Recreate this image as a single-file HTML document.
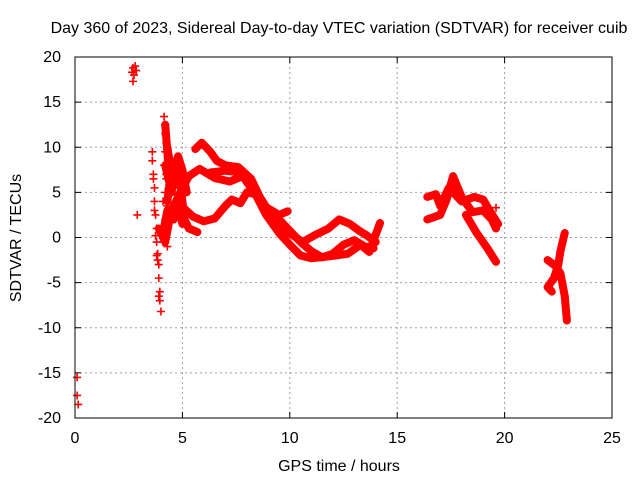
<!DOCTYPE html>
<html><head><meta charset="utf-8"><style>
body{margin:0;background:#fff}
svg{display:block;font-family:"Liberation Sans",sans-serif}
</style></head><body>
<svg id="chart" width="640" height="480" viewBox="0 0 640 480" xmlns="http://www.w3.org/2000/svg">
<rect width="640" height="480" fill="#fff"/>
<text x="339" y="33" font-size="16" text-anchor="middle">Day 360 of 2023, Sidereal Day-to-day VTEC variation (SDTVAR) for receiver cuib</text>
<text x="339" y="471" font-size="16" text-anchor="middle">GPS time / hours</text>
<text transform="translate(21,238) rotate(-90)" font-size="16" text-anchor="middle">SDTVAR / TECUs</text>
<g id="grid"></g><g id="ticks"></g><g id="marks"></g>
<rect x="75" y="57" width="537" height="361" fill="none" stroke="#000" stroke-width="1"/>
</svg>
<script>
const xTicks=[0,5,10,15,20,25];
const yTicks=[20,15,10,5,0,-5,-10,-15,-20];
const track1=[[5.6,9.8],[5.9,10.5],[6.3,9.5],[6.6,8.5],[7.0,8.0],[7.6,7.8],[8.2,6.5],[8.6,4.5],[9.0,3.0],[9.5,2.0],[9.9,1.0],[10.5,-0.5],[11.0,-1.5],[11.5,-2.2],[12.0,-1.8],[12.5,-0.8],[13.0,-0.3],[13.5,-1.0],[13.9,-1.2]];
const track2=[[4.5,3.0],[4.9,5.0],[5.3,6.8],[5.8,7.6],[6.5,6.6],[7.2,6.2],[7.8,6.8],[8.2,5.5],[8.8,3.5],[9.5,2.5],[9.9,2.9]];
const track3=[[4.9,3.6],[5.5,2.3],[6.0,1.8],[6.5,2.1],[7.0,3.5],[7.3,4.2],[7.7,3.8],[8.0,5.0],[8.4,4.8],[8.9,2.5],[9.5,0.5],[10.0,-0.8],[10.5,-2.0],[11.0,-2.3],[11.8,-2.1],[12.7,-1.8],[13.3,-0.8],[13.7,-1.6],[14.2,1.6]];
const track4=[[9.1,2.7],[9.8,0.8],[10.6,-0.5],[11.2,0.3],[11.8,1.0],[12.3,2.0],[12.8,1.5],[13.2,0.8],[13.6,0.2],[14.0,-0.5]];
const track5=[[16.4,2.0],[17.0,2.5],[17.3,4.2],[17.6,6.8],[18.0,4.5],[18.5,2.8],[19.0,3.0],[19.4,2.0],[19.6,1.0]];
const track6=[[16.4,4.5],[16.8,4.8],[17.0,3.5],[17.4,5.5],[18.0,4.0],[18.6,4.5],[19.0,4.2],[19.3,3.0],[19.7,1.5]];
const track7=[[18.2,2.5],[18.7,0.5],[19.2,-1.2],[19.6,-2.7]];
const track8=[[22.8,0.5],[22.6,-1.5],[22.5,-3.0],[22.3,-4.5],[22.0,-5.5],[22.2,-6.0]];
const track9=[[22.0,-2.5],[22.4,-3.2],[22.6,-4.0],[22.8,-6.5],[22.9,-9.2]];
const track10=[[4.2,8.0],[4.5,5.0],[4.7,8.5],[4.9,6.0],[5.1,2.0],[5.3,1.0],[5.7,0.6]];
const track11=[[4.1,0.5],[4.3,3.0],[4.6,2.0],[4.8,4.0],[5.0,1.5]];
const track12=[[6.3,7.2],[7.0,7.4],[7.8,7.2],[8.2,6.0]];
const track13=[[4.3,10.0],[4.5,7.0],[4.8,9.0],[5.0,7.5],[5.2,5.0]];
const track14=[[3.9,1.0],[4.2,-0.5],[4.4,2.0],[4.7,3.5]];
const track15=[[4.2,12.5],[4.3,9.5],[4.4,6.0],[4.3,4.0]];
const scatterX=[0.1,0.1,0.15,2.7,2.75,2.7,2.8,2.85,2.65,2.9,3.6,3.65,3.7,3.7,3.75,3.8,3.8,3.85,3.9,3.9,3.95,3.95,4.0,3.6,3.65,3.7,3.75,3.8,4.15,4.2,4.2,4.25,4.2,4.15,4.25,4.2,4.3,4.2,4.15,4.1,4.3,4.2,4.25,4.1,4.35,4.4,4.5,4.6,3.85,3.9,19.6];
const scatterY=[-15.5,-17.5,-18.5,18.8,18.0,17.3,19.0,18.5,18.3,2.5,8.5,7.0,5.5,4.0,2.5,1.0,-0.5,-1.8,-3.0,-4.5,-6.0,-7.0,-8.2,9.5,6.5,3.0,0.2,-2.0,13.4,12.5,11.5,10.5,9.5,8.0,6.5,5.0,3.5,2.0,0.5,-0.5,-1.0,1.5,7.0,4.0,9.0,8.0,2.0,5.5,-2.5,-6.5,3.3];
const xS=v=>75+v*537/25, yS=v=>237.5-v*361/40;
const NS='http://www.w3.org/2000/svg';
function mk(t,a,p){const e=document.createElementNS(NS,t);for(const k in a)e.setAttribute(k,a[k]);p.appendChild(e);return e;}
const grid=document.getElementById('grid'),ticks=document.getElementById('ticks'),marks=document.getElementById('marks');
xTicks.forEach(t=>{const x=xS(t);
 if(t>0&&t<25){const g=mk('line',{x1:x,x2:x,y1:57,y2:418,stroke:'#a0a0a0','stroke-dasharray':'2,3'},grid);
 
 }
 mk('line',{x1:x,x2:x,y1:418,y2:412,stroke:'#000'},ticks);mk('line',{x1:x,x2:x,y1:57,y2:63,stroke:'#000'},ticks);
 const l=mk('text',{x:x,y:443,'font-size':16,'text-anchor':'middle'},ticks);l.textContent=t;
 
 });
yTicks.forEach(t=>{const y=yS(t);
 if(t>-20&&t<20){const g=mk('line',{x1:75,x2:612,y1:y,y2:y,stroke:'#a0a0a0','stroke-dasharray':'2,3'},grid);
 
 }
 mk('line',{x1:75,x2:81,y1:y,y2:y,stroke:'#000'},ticks);mk('line',{x1:612,x2:606,y1:y,y2:y,stroke:'#000'},ticks);
 const l=mk('text',{x:61,y:y+5,'font-size':16,'text-anchor':'end'},ticks);l.textContent=t;
 
 });
[track1,track2,track3,track4,track5,track6,track7,track8,track9,track10,track11,track12,track13,track14,track15].forEach((tr,i)=>{
 const p=mk('polyline',{points:tr.map(d=>xS(d[0])+','+yS(d[1])).join(' '),fill:'none',stroke:'#f00','stroke-width':8,'stroke-linejoin':'round','stroke-linecap':'round'},marks);
 
 });
scatterX.forEach((xv,i)=>{const x=xS(xv),y=yS(scatterY[i]);
 const p=mk('path',{d:`M${x-4},${y}H${x+4}M${x},${y-4}V${y+4}`,stroke:'#f00','stroke-width':1.6},marks);
 
 });
</script>
</body></html>
